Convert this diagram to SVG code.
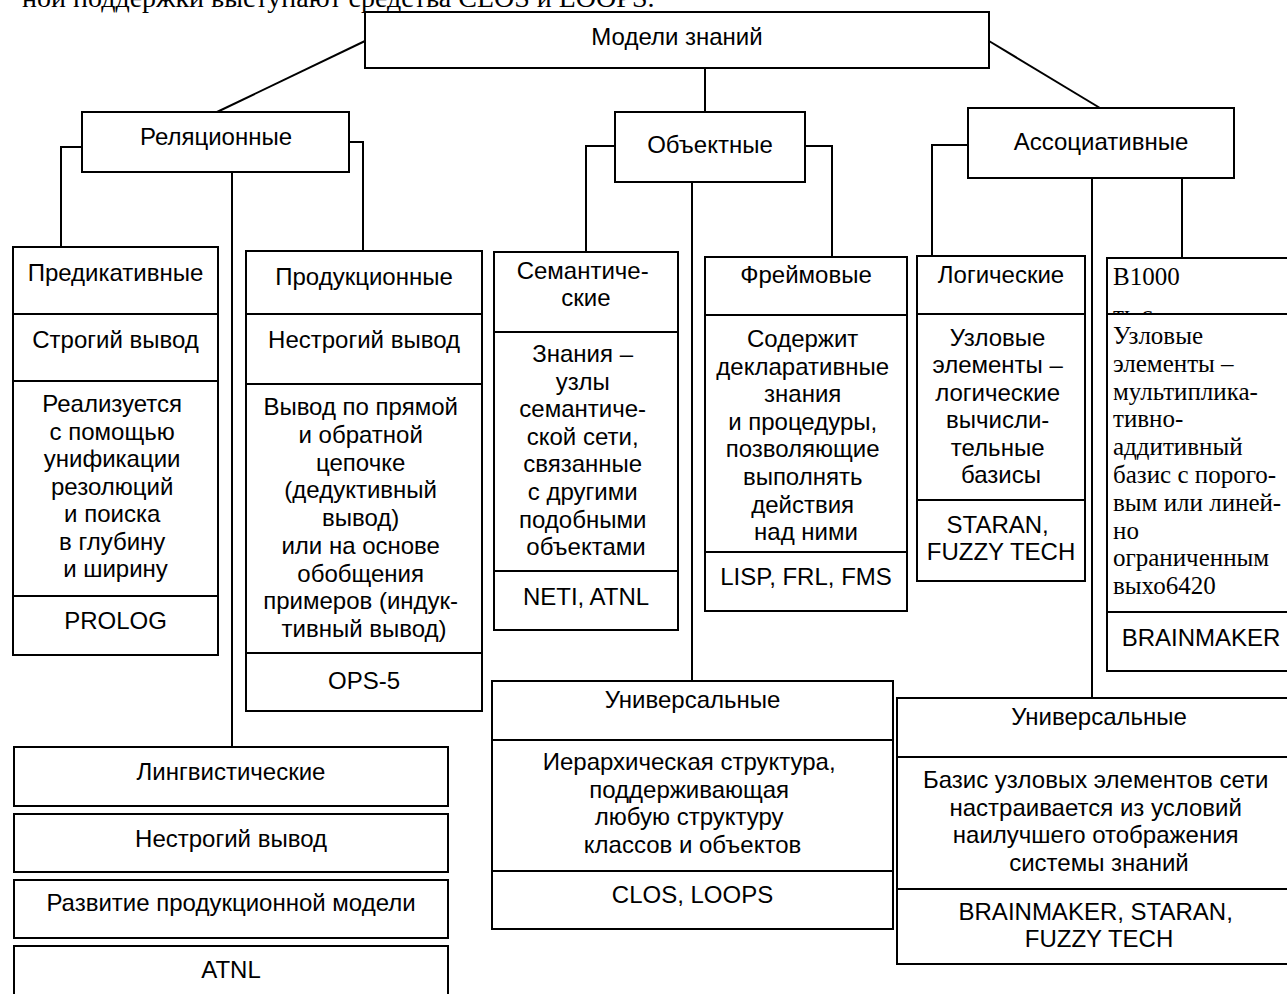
<svg xmlns="http://www.w3.org/2000/svg" width="1287" height="994" viewBox="0 0 1287 994">
  <style>
    .box { fill: #fff; stroke: #000; stroke-width: 2; }
    .div { stroke: #000; stroke-width: 2; }
    .link { fill: none; stroke: #000; stroke-width: 2; }
    .t { font-family: "Liberation Sans", Arial, sans-serif; font-size: 24px; text-anchor: middle; fill: #000; }
    .s { font-family: "Liberation Serif", "Times New Roman", serif; font-size: 25px; fill: #000; }
    .body { font-family: "Liberation Serif", "Times New Roman", serif; font-size: 28px; fill: #000; }
  </style>
  <rect width="1287" height="994" fill="#fff"/>

  <!-- running text of the page, cut by the top edge -->
  <text class="body" x="22" y="7">ной поддержки выступают средства CLOS и LOOPS.</text>

  <!-- connectors -->
  <g id="connectors">
    <path class="link" d="M365 41 L217 112"/>
    <path class="link" d="M705 68 V112"/>
    <path class="link" d="M989 41 L1100 108"/>
    <path class="link" d="M82 147 H61 V247"/>
    <path class="link" d="M232 172 V747"/>
    <path class="link" d="M349 142 H363 V251"/>
    <path class="link" d="M615 146 H586 V252"/>
    <path class="link" d="M692 182 V681"/>
    <path class="link" d="M805 146 H832 V257"/>
    <path class="link" d="M968 145 H932 V256"/>
    <path class="link" d="M1092 178 V698"/>
    <path class="link" d="M1182 178 V258"/>
  </g>

  <g id="models">
    <rect class="box" x="365" y="12" width="624" height="56"/>
    <text class="t" x="677" y="45">Модели знаний</text>
  </g>

  <g id="relational">
    <rect class="box" x="82" y="112" width="267" height="60"/>
    <text class="t" x="216" y="145">Реляционные</text>
  </g>

  <g id="object">
    <rect class="box" x="615" y="112" width="190" height="70"/>
    <text class="t" x="710" y="153">Объектные</text>
  </g>

  <g id="associative">
    <rect class="box" x="968" y="108" width="266" height="70"/>
    <text class="t" x="1101" y="150">Ассоциативные</text>
  </g>

  <g id="predicative">
    <rect class="box" x="13" y="247" width="205" height="408"/>
    <line class="div" x1="13" y1="314" x2="218" y2="314"/>
    <line class="div" x1="13" y1="381" x2="218" y2="381"/>
    <line class="div" x1="13" y1="596" x2="218" y2="596"/>
    <text class="t" x="115.5" y="281">Предикативные</text>
    <text class="t" x="115.5" y="348">Строгий вывод</text>
    <text class="t" y="412">
      <tspan x="115.5">Реализуется</tspan>
      <tspan x="115.5" dy="27.5">с помощью</tspan>
      <tspan x="115.5" dy="27.5">унификации</tspan>
      <tspan x="115.5" dy="27.5">резолюций</tspan>
      <tspan x="115.5" dy="27.5">и поиска</tspan>
      <tspan x="115.5" dy="27.5">в глубину</tspan>
      <tspan x="115.5" dy="27.5">и ширину</tspan>
    </text>
    <text class="t" x="115.5" y="629">PROLOG</text>
  </g>

  <g id="production">
    <rect class="box" x="246" y="251" width="236" height="460"/>
    <line class="div" x1="246" y1="314" x2="482" y2="314"/>
    <line class="div" x1="246" y1="384" x2="482" y2="384"/>
    <line class="div" x1="246" y1="653" x2="482" y2="653"/>
    <text class="t" x="364" y="285">Продукционные</text>
    <text class="t" x="364" y="348">Нестрогий вывод</text>
    <text class="t" y="415">
      <tspan x="364">Вывод по прямой</tspan>
      <tspan x="364" dy="27.75">и обратной</tspan>
      <tspan x="364" dy="27.75">цепочке</tspan>
      <tspan x="364" dy="27.75">(дедуктивный</tspan>
      <tspan x="364" dy="27.75">вывод)</tspan>
      <tspan x="364" dy="27.75">или на основе</tspan>
      <tspan x="364" dy="27.75">обобщения</tspan>
      <tspan x="364" dy="27.75">примеров (индук-</tspan>
      <tspan x="364" dy="27.75">тивный вывод)</tspan>
    </text>
    <text class="t" x="364" y="689">OPS-5</text>
  </g>

  <g id="semantic">
    <rect class="box" x="494" y="252" width="184" height="378"/>
    <line class="div" x1="494" y1="332" x2="678" y2="332"/>
    <line class="div" x1="494" y1="571" x2="678" y2="571"/>
    <text class="t" y="279">
      <tspan x="586">Семантиче-</tspan>
      <tspan x="586" dy="27">ские</tspan>
    </text>
    <text class="t" y="362">
      <tspan x="586">Знания –</tspan>
      <tspan x="586" dy="27.6">узлы</tspan>
      <tspan x="586" dy="27.6">семантиче-</tspan>
      <tspan x="586" dy="27.6">ской сети,</tspan>
      <tspan x="586" dy="27.6">связанные</tspan>
      <tspan x="586" dy="27.6">с другими</tspan>
      <tspan x="586" dy="27.6">подобными</tspan>
      <tspan x="586" dy="27.6">объектами</tspan>
    </text>
    <text class="t" x="586" y="605">NETI, ATNL</text>
  </g>

  <g id="frame">
    <rect class="box" x="705" y="257" width="202" height="354"/>
    <line class="div" x1="705" y1="315" x2="907" y2="315"/>
    <line class="div" x1="705" y1="552" x2="907" y2="552"/>
    <text class="t" x="806" y="283">Фреймовые</text>
    <text class="t" y="347">
      <tspan x="806">Содержит</tspan>
      <tspan x="806" dy="27.6">декларативные</tspan>
      <tspan x="806" dy="27.6">знания</tspan>
      <tspan x="806" dy="27.6">и процедуры,</tspan>
      <tspan x="806" dy="27.6">позволяющие</tspan>
      <tspan x="806" dy="27.6">выполнять</tspan>
      <tspan x="806" dy="27.6">действия</tspan>
      <tspan x="806" dy="27.6">над ними</tspan>
    </text>
    <text class="t" x="806" y="585">LISP, FRL, FMS</text>
  </g>

  <g id="logical">
    <rect class="box" x="917" y="256" width="168" height="325"/>
    <line class="div" x1="917" y1="314" x2="1085" y2="314"/>
    <line class="div" x1="917" y1="500" x2="1085" y2="500"/>
    <text class="t" x="1001" y="283">Логические</text>
    <text class="t" y="346">
      <tspan x="1001">Узловые</tspan>
      <tspan x="1001" dy="27.4">элементы –</tspan>
      <tspan x="1001" dy="27.4">логические</tspan>
      <tspan x="1001" dy="27.4">вычисли-</tspan>
      <tspan x="1001" dy="27.4">тельные</tspan>
      <tspan x="1001" dy="27.4">базисы</tspan>
    </text>
    <text class="t" y="533">
      <tspan x="1001">STARAN,</tspan>
      <tspan x="1001" dy="27">FUZZY TECH</tspan>
    </text>
  </g>

  <g id="neural">
    <rect class="box" x="1107" y="258" width="188" height="56"/>
    <text class="s" x="1113" y="285">B1000</text>
    <text class="s" x="1113" y="323">ть с</text>
    <rect class="box" x="1107" y="314" width="188" height="357"/>
    <line class="div" x1="1107" y1="612" x2="1295" y2="612"/>
    <text class="s" y="344">
      <tspan x="1113">Узловые</tspan>
      <tspan x="1113" dy="27.8">элементы –</tspan>
      <tspan x="1113" dy="27.8">мультиплика-</tspan>
      <tspan x="1113" dy="27.8">тивно-</tspan>
      <tspan x="1113" dy="27.8">аддитивный</tspan>
      <tspan x="1113" dy="27.8">базис с порого-</tspan>
      <tspan x="1113" dy="27.8">вым или линей-</tspan>
      <tspan x="1113" dy="27.8">но</tspan>
      <tspan x="1113" dy="27.8">ограниченным</tspan>
      <tspan x="1113" dy="27.8">выхо6420</tspan>
    </text>
    <text class="t" x="1201" y="646">BRAINMAKER</text>
  </g>

  <g id="linguistic">
    <rect class="box" x="14" y="747" width="434" height="59"/>
    <text class="t" x="231" y="780">Лингвистические</text>
    <rect class="box" x="14" y="814" width="434" height="58"/>
    <text class="t" x="231" y="847">Нестрогий вывод</text>
    <rect class="box" x="14" y="880" width="434" height="58"/>
    <text class="t" x="231" y="911">Развитие продукционной модели</text>
    <rect class="box" x="14" y="946" width="434" height="60"/>
    <text class="t" x="231" y="978">ATNL</text>
  </g>

  <g id="universal-object">
    <rect class="box" x="492" y="681" width="401" height="248"/>
    <line class="div" x1="492" y1="740" x2="893" y2="740"/>
    <line class="div" x1="492" y1="871" x2="893" y2="871"/>
    <text class="t" x="692.5" y="708">Универсальные</text>
    <text class="t" y="770">
      <tspan x="692.5">Иерархическая структура,</tspan>
      <tspan x="692.5" dy="27.6">поддерживающая</tspan>
      <tspan x="692.5" dy="27.6">любую структуру</tspan>
      <tspan x="692.5" dy="27.6">классов и объектов</tspan>
    </text>
    <text class="t" x="692.5" y="903">CLOS, LOOPS</text>
  </g>

  <g id="universal-associative">
    <rect class="box" x="897" y="698" width="404" height="266"/>
    <line class="div" x1="897" y1="757" x2="1301" y2="757"/>
    <line class="div" x1="897" y1="889" x2="1301" y2="889"/>
    <text class="t" x="1099" y="725">Универсальные</text>
    <text class="t" y="788">
      <tspan x="1099">Базис узловых элементов сети</tspan>
      <tspan x="1099" dy="27.5">настраивается из условий</tspan>
      <tspan x="1099" dy="27.5">наилучшего отображения</tspan>
      <tspan x="1099" dy="27.5">системы знаний</tspan>
    </text>
    <text class="t" y="920">
      <tspan x="1099">BRAINMAKER, STARAN,</tspan>
      <tspan x="1099" dy="27">FUZZY TECH</tspan>
    </text>
  </g>
</svg>
